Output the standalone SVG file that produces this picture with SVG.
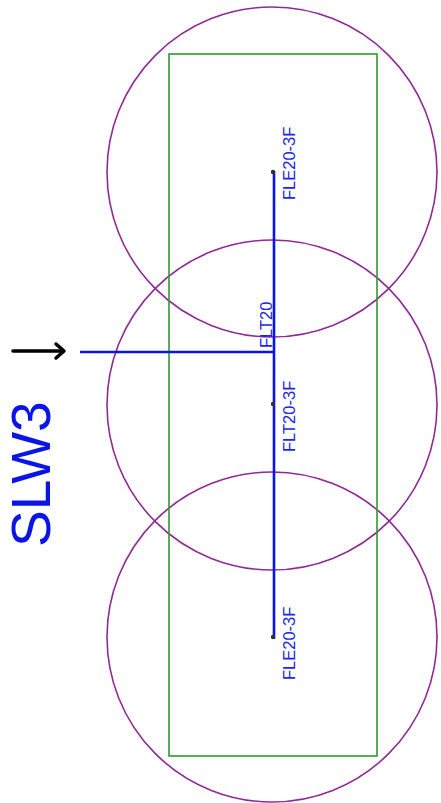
<svg xmlns="http://www.w3.org/2000/svg" width="441" height="803" viewBox="0 0 441 803">
<style>
.circ{fill:none;stroke:#902a96;stroke-width:1.6}
.rect{fill:none;stroke:#2e9a2e;stroke-width:1.6}
.wire{stroke:#0a14e6;stroke-width:2.6;fill:none}
.lbl{font-family:"Liberation Sans",Arial,sans-serif;font-size:16.5px;fill:#1e28e6}
.dot{fill:#333}
</style>
<rect width="441" height="803" fill="#fff"/>
<g id="zones">
<circle class="circ" cx="272" cy="172" r="165"/>
<circle class="circ" cx="272" cy="405" r="165"/>
<circle class="circ" cx="272" cy="637" r="165"/>
<rect class="rect" x="169" y="54" width="208" height="702"/>
</g>
<g id="connectors">
<line class="wire" x1="274" y1="171" x2="274" y2="639"/>
<line class="wire" x1="80" y1="352" x2="275" y2="352"/>
<g id="arrow" stroke="#000" stroke-width="3.5" fill="none" stroke-linecap="round" stroke-linejoin="round">
<line x1="13" y1="351" x2="63" y2="351"/>
<polyline points="56,344 64,351 56,358"/>
</g>
</g>
<g id="node-top"><circle class="dot" cx="273" cy="172" r="2.2"/><text class="lbl" transform="translate(295,200) rotate(-90)">FLE20-3F</text></g>
<g id="node-mid"><circle class="dot" cx="273" cy="404" r="2.2"/><text class="lbl" transform="translate(295,452) rotate(-90)">FLT20-3F</text></g>
<g id="node-bot"><circle class="dot" cx="273" cy="637" r="2.2"/><text class="lbl" transform="translate(295,680) rotate(-90)">FLE20-3F</text></g>
<g id="node-flt20"><text class="lbl" transform="translate(272,348) rotate(-90)">FLT20</text></g>
<g id="slw3"><text transform="translate(50,547) rotate(-90)" font-family="Liberation Sans,Arial,sans-serif" font-size="55" fill="#0a14e6">SLW3</text></g>
</svg>
